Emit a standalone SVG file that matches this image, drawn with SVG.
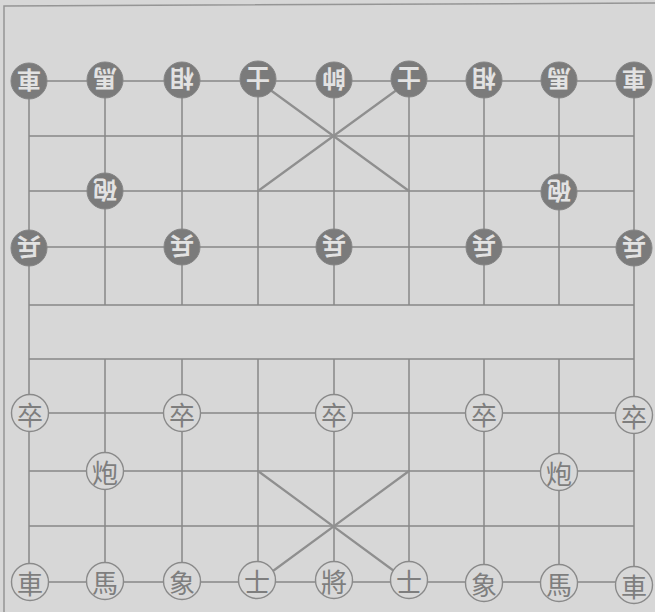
<svg xmlns="http://www.w3.org/2000/svg" width="655" height="612" viewBox="0 0 655 612">
<style>
.ln{stroke:#888;stroke-width:1.5;fill:none}
.dg{stroke:#8f8f8f;stroke-width:2.2;fill:none}
.fr{stroke:#959595;stroke-width:1.5;fill:none}
.rc{fill:#7b7b7b;stroke:#858585;stroke-width:1}
.rt{fill:#e2e2e2;font-family:"Noto Sans CJK TC","Noto Sans CJK SC",sans-serif;font-weight:bold;font-size:24px;text-anchor:middle;dominant-baseline:central}
.bc{fill:#d8d8d8;stroke:#8a8a8a;stroke-width:1.4}
.bt{fill:#7e7e7e;font-family:"Noto Sans CJK TC","Noto Sans CJK SC",serif;font-size:26px;text-anchor:middle;dominant-baseline:central}
</style>
<rect width="655" height="612" fill="#d7d7d7"/>
<g id="connectors">
<path class="fr" d="M4,612 V6 L655,3"/>
<path class="ln" d="M29,81H634M29,136H634M29,191H634M29,247H634M29,305H634M29,359H634M29,413H634M29,471H634M29,526H634M29,582H634"/>
<path class="ln" d="M29,81V582M634,81V582M105,81V305M182,81V305M258,81V305M334,81V305M409,81V305M484,81V305M559,81V305M105,359V582M182,359V582M258,359V582M334,359V582M409,359V582M484,359V582M559,359V582"/>
<path class="dg" d="M258,81L409,191M409,81L258,191M258,471L409,582M409,471L258,582"/>
</g>
<g id="r-che1"><circle class="rc" cx="29" cy="81" r="18"/><text class="rt" x="29" y="81" transform="rotate(180 29 81)">車</text></g>
<g id="r-ma1"><circle class="rc" cx="105" cy="80" r="18"/><text class="rt" x="105" y="80" transform="rotate(180 105 80)">馬</text></g>
<g id="r-xiang1"><circle class="rc" cx="182" cy="80" r="18"/><text class="rt" x="182" y="80" transform="rotate(180 182 80)">相</text></g>
<g id="r-shi1"><circle class="rc" cx="258" cy="79" r="18"/><text class="rt" x="258" y="79" transform="rotate(180 258 79)">士</text></g>
<g id="r-shuai"><circle class="rc" cx="334" cy="80" r="18"/><text class="rt" x="334" y="80" transform="rotate(180 334 80)">帥</text></g>
<g id="r-shi2"><circle class="rc" cx="409" cy="79" r="18"/><text class="rt" x="409" y="79" transform="rotate(180 409 79)">士</text></g>
<g id="r-xiang2"><circle class="rc" cx="484" cy="80" r="18"/><text class="rt" x="484" y="80" transform="rotate(180 484 80)">相</text></g>
<g id="r-ma2"><circle class="rc" cx="559" cy="80" r="18"/><text class="rt" x="559" y="80" transform="rotate(180 559 80)">馬</text></g>
<g id="r-che2"><circle class="rc" cx="634" cy="80" r="18"/><text class="rt" x="634" y="80" transform="rotate(180 634 80)">車</text></g>
<g id="r-pao1"><circle class="rc" cx="105" cy="191" r="18"/><text class="rt" x="105" y="191" transform="rotate(180 105 191)">砲</text></g>
<g id="r-pao2"><circle class="rc" cx="559" cy="192" r="18"/><text class="rt" x="559" y="192" transform="rotate(180 559 192)">砲</text></g>
<g id="r-bing1"><circle class="rc" cx="29" cy="248" r="18"/><text class="rt" x="29" y="248" transform="rotate(180 29 248)">兵</text></g>
<g id="r-bing2"><circle class="rc" cx="182" cy="247" r="18"/><text class="rt" x="182" y="247" transform="rotate(180 182 247)">兵</text></g>
<g id="r-bing3"><circle class="rc" cx="334" cy="247" r="18"/><text class="rt" x="334" y="247" transform="rotate(180 334 247)">兵</text></g>
<g id="r-bing4"><circle class="rc" cx="484" cy="247" r="18"/><text class="rt" x="484" y="247" transform="rotate(180 484 247)">兵</text></g>
<g id="r-bing5"><circle class="rc" cx="634" cy="248" r="18"/><text class="rt" x="634" y="248" transform="rotate(180 634 248)">兵</text></g>
<g id="b-zu1"><circle class="bc" cx="30" cy="413" r="18.5"/><text class="bt" x="30" y="413">卒</text></g>
<g id="b-zu2"><circle class="bc" cx="182" cy="413" r="18.5"/><text class="bt" x="182" y="413">卒</text></g>
<g id="b-zu3"><circle class="bc" cx="334" cy="413" r="18.5"/><text class="bt" x="334" y="413">卒</text></g>
<g id="b-zu4"><circle class="bc" cx="484" cy="413" r="18.5"/><text class="bt" x="484" y="413">卒</text></g>
<g id="b-zu5"><circle class="bc" cx="634" cy="415" r="18.5"/><text class="bt" x="634" y="415">卒</text></g>
<g id="b-pao1"><circle class="bc" cx="105" cy="471" r="18.5"/><text class="bt" x="105" y="471">炮</text></g>
<g id="b-pao2"><circle class="bc" cx="559" cy="472" r="18.5"/><text class="bt" x="559" y="472">炮</text></g>
<g id="b-che1"><circle class="bc" cx="30" cy="582" r="18.5"/><text class="bt" x="30" y="582">車</text></g>
<g id="b-ma1"><circle class="bc" cx="105" cy="581" r="18.5"/><text class="bt" x="105" y="581">馬</text></g>
<g id="b-xiang1"><circle class="bc" cx="182" cy="581" r="18.5"/><text class="bt" x="182" y="581">象</text></g>
<g id="b-shi1"><circle class="bc" cx="257" cy="580" r="18.5"/><text class="bt" x="257" y="580">士</text></g>
<g id="b-jiang"><circle class="bc" cx="334" cy="580" r="18.5"/><text class="bt" x="334" y="580">將</text></g>
<g id="b-shi2"><circle class="bc" cx="409" cy="580" r="18.5"/><text class="bt" x="409" y="580">士</text></g>
<g id="b-xiang2"><circle class="bc" cx="484" cy="583" r="18.5"/><text class="bt" x="484" y="583">象</text></g>
<g id="b-ma2"><circle class="bc" cx="559" cy="583" r="18.5"/><text class="bt" x="559" y="583">馬</text></g>
<g id="b-che2"><circle class="bc" cx="634" cy="585" r="18.5"/><text class="bt" x="634" y="585">車</text></g>
</svg>
